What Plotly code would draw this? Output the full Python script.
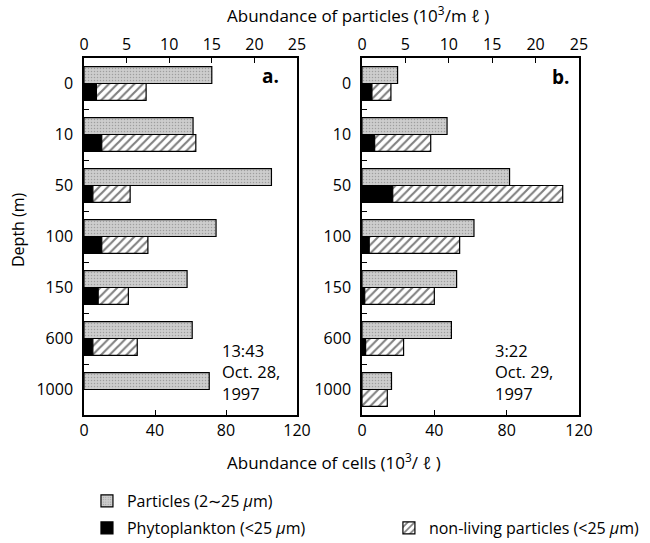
import plotly.graph_objects as go

depths = ["0", "10", "50", "100", "150", "600", "1000"]

# Panel a (13:43 Oct. 28, 1997)
particles_a = [15.0, 12.8, 22.0, 15.5, 12.1, 12.7, 14.7]        # 10^3 / mL (top axis)
phyto_a = [7, 10, 5, 10, 8, 5, None]                             # 10^3 / L (bottom axis)
nonliving_a = [28, 53, 21, 26, 17, 25, None]                     # 10^3 / L (stacked on phyto)

# Panel b (3:22 Oct. 29, 1997)
particles_b = [4.1, 9.8, 17.0, 12.9, 10.9, 10.3, 3.4]
phyto_b = [5.5, 7, 17, 4, 1.5, 2, 0]
nonliving_b = [10.5, 31, 94, 50, 38.5, 21, 14]

particle_ticks = [0, 5, 10, 15, 20, 25]
cell_ticks = [0, 40, 80, 120]

date_a = ["13:43", "Oct. 28,", "1997"]
date_b = ["3:22", "Oct. 29,", "1997"]

FONT = "Open Sans"
BW = 0.33

particle_marker = dict(color="#c4c4c4", line=dict(color="black", width=1.2),
                       pattern=dict(shape=".", fgcolor="#707070", bgcolor="#cdcdcd",
                                    size=3, solidity=0.2))
phyto_marker = dict(color="black", line=dict(color="black", width=1.2))
nonliving_marker = dict(color="white", line=dict(color="black", width=1.2),
                        pattern=dict(shape="/", fgcolor="black", bgcolor="white",
                                     size=6, solidity=0.35))

fig = go.Figure()

def add_panel(part, phy, nonl, xb, xt, ya, show):
    fig.add_trace(go.Bar(y=depths, x=part, orientation="h", xaxis=xt, yaxis=ya,
                         offset=-BW, width=BW, marker=particle_marker,
                         name="Particles (2∼25 <i>μ</i>m)", showlegend=show,
                         legend="legend"))
    fig.add_trace(go.Bar(y=depths, x=phy, orientation="h", xaxis=xb, yaxis=ya,
                         offset=0, width=BW, marker=phyto_marker,
                         name="Phytoplankton (<25 <i>μ</i>m)", showlegend=show,
                         legend="legend2"))
    fig.add_trace(go.Bar(y=depths, x=nonl, base=[p if p is not None else 0 for p in phy],
                         orientation="h", xaxis=xb, yaxis=ya,
                         offset=0, width=BW, marker=nonliving_marker,
                         name="non-living particles (<25 <i>μ</i>m)", showlegend=show,
                         legend="legend3"))

add_panel(particles_a, phyto_a, nonliving_a, "x", "x2", "y", True)
add_panel(particles_b, phyto_b, nonliving_b, "x3", "x4", "y2", False)

dom_a = [0, 0.4303]
dom_b = [0.5616, 1]

tickfont = dict(family=FONT, size=16, color="black")
common_x = dict(showgrid=False, zeroline=False, showline=True, linecolor="black",
                linewidth=1.5, ticks="inside", ticklen=5, tickcolor="black",
                tickfont=tickfont, fixedrange=True, automargin=False)
common_y = dict(showgrid=False, zeroline=False, showline=True, linecolor="black",
                linewidth=1.5, mirror=True, ticks="inside", ticklen=5,
                tickcolor="black", tickson="boundaries", tickfont=tickfont,
                categoryorder="array", categoryarray=depths,
                range=[6.5, -0.5], ticklabelstandoff=6, automargin=False)

legend_common = dict(xanchor="left", yanchor="top", orientation="v",
                     font=dict(family=FONT, size=16), bgcolor="rgba(0,0,0,0)",
                     itemwidth=30)

fig.update_layout(
    width=650, height=543,
    margin=dict(l=84, r=71, t=58, b=128, autoexpand=False),
    paper_bgcolor="white", plot_bgcolor="white",
    barmode="overlay",
    font=dict(family=FONT, size=15, color="black"),
    xaxis=dict(domain=dom_a, anchor="y", side="bottom", range=[0, 120],
               tickvals=cell_ticks, **common_x),
    xaxis2=dict(domain=dom_a, anchor="y", overlaying="x", side="top", range=[0, 25],
                tickvals=particle_ticks, **common_x),
    xaxis3=dict(domain=dom_b, anchor="y2", side="bottom", range=[0, 120],
                tickvals=cell_ticks, **common_x),
    xaxis4=dict(domain=dom_b, anchor="y2", overlaying="x3", side="top", range=[0, 25],
                tickvals=particle_ticks, **common_x),
    yaxis=dict(domain=[0, 1], anchor="x", **common_y),
    yaxis2=dict(domain=[0, 1], anchor="x3", **common_y),
    legend=dict(x=0.006, y=-0.1933, **legend_common),
    legend2=dict(x=0.006, y=-0.269, **legend_common),
    legend3=dict(x=0.616, y=-0.269, **legend_common),
)

def px_x(p):
    return (p - 84) / 495

def px_y(p):
    return (415 - p) / 357

annots = [
    dict(text="Abundance of particles (10<sup>3</sup>/m ℓ )", x=px_x(358), y=px_y(15),
         font=dict(size=17)),
    dict(text="Abundance of cells (10<sup>3</sup>/ ℓ )", x=px_x(334), y=px_y(461),
         font=dict(size=17)),
    dict(text="Depth (m)", x=px_x(18), y=px_y(230), textangle=-90, font=dict(size=16)),
    dict(text="<b>a.</b>", x=px_x(270), y=px_y(76), font=dict(size=19)),
    dict(text="<b>b.</b>", x=px_x(560), y=px_y(77), font=dict(size=19)),
    dict(text="<br>".join(date_a), x=px_x(220), y=px_y(372), xanchor="left",
         align="left", font=dict(size=16.5)),
    dict(text="<br>".join(date_b), x=px_x(493), y=px_y(372), xanchor="left",
         align="left", font=dict(size=16.5)),
]
for a in annots:
    a.setdefault("xanchor", "center")
    a.setdefault("yanchor", "middle")
    a.update(xref="paper", yref="paper", showarrow=False)
fig.update_layout(annotations=annots)

fig.write_html("out.html", config={"displayModeBar": False},
               post_script="document.body.style.margin='0px';document.body.style.padding='0px';")
